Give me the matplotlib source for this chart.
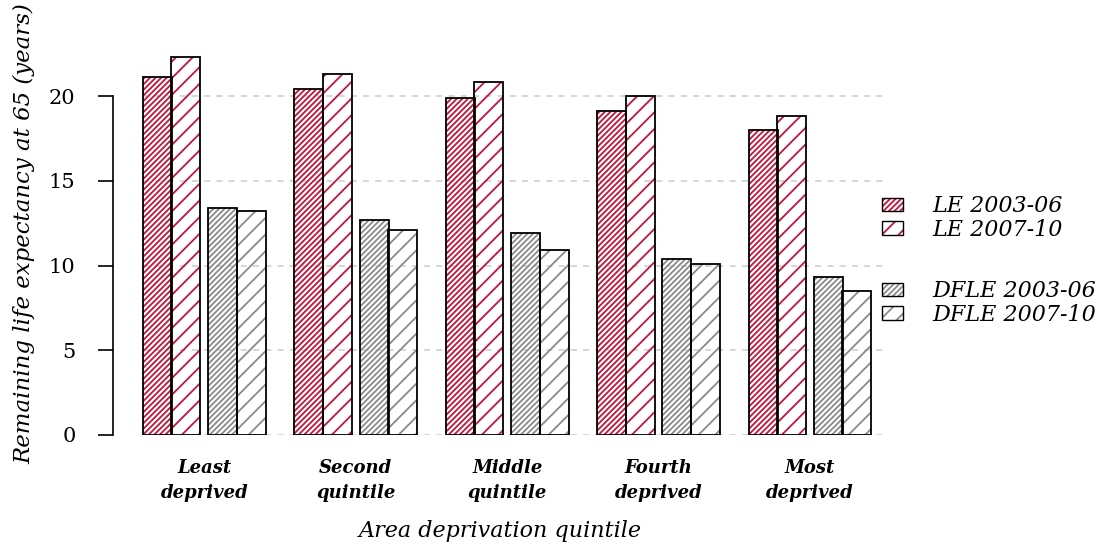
import numpy as np
import matplotlib
matplotlib.use("Agg")
import matplotlib.pyplot as plt
from matplotlib.patches import Patch
from matplotlib.legend_handler import HandlerTuple

quintiles = ["Least\ndeprived", "Second\nquintile", "Middle\nquintile", "Fourth\ndeprived", "Most\ndeprived"]
le_0306 = [21.1, 20.4, 19.9, 19.1, 18.0]
le_0710 = [22.3, 21.3, 20.8, 20.0, 18.8]
dfle_0306 = [13.4, 12.7, 11.9, 10.4, 9.3]
dfle_0710 = [13.2, 12.1, 10.9, 10.1, 8.5]
series_names = ["LE 2003-06", "LE 2007-10", "DFLE 2003-06", "DFLE 2007-10"]

red = "#c0163c"
grey = "#8a8a8a"
plt.rcParams["hatch.linewidth"] = 1.3
serif = ["DejaVu Serif"]

W, H = 1110, 545
fig = plt.figure(figsize=(W / 100, H / 100), dpi=100)
ax = fig.add_axes([113 / W, 110 / H, 774 / W, 402 / H])

# spine setup first (set_position resets tick labels)
for s in ["top", "right", "bottom"]:
    ax.spines[s].set_visible(False)
ax.spines["left"].set_bounds(0, 20)
ax.spines["left"].set_linewidth(1.2)

w = 1.0
x0 = np.arange(5) * 5.22
offsets = [0, 0.98, 2.25, 3.24]
series = [le_0306, le_0710, dfle_0306, dfle_0710]
colors = [red, red, grey, grey]
hatches = ["//////", "//", "//////", "//"]

ax.hlines([0, 5, 10, 15, 20], 0, x0[-1] + 4.24 + 0.5, color="#cccccc",
          linestyles=(0, (4, 4)), lw=1.1, zorder=0)

for vals, off, c, h in zip(series, offsets, colors, hatches):
    xs = x0 + off
    ax.bar(xs, vals, width=w, align="edge", facecolor="none", edgecolor=c,
           hatch=h, linewidth=0, zorder=2)
    ax.bar(xs, vals, width=w, align="edge", fill=False, edgecolor="black",
           linewidth=1.3, zorder=3)

ax.set_xlim(-30 / 29, -30 / 29 + 774 / 29)
ax.set_ylim(0, 402 / 16.95)
ax.set_yticks([0, 5, 10, 15, 20])
ax.set_yticklabels(["0", "5", "10", "15", "20"], family=serif, fontsize=15)
ax.set_xticks(x0 + 2.12)
ax.set_xticklabels(quintiles, family=serif, style="italic", fontweight="bold",
                   fontsize=13, linespacing=1.55)
ax.tick_params(axis="x", length=0, pad=17)
ax.tick_params(axis="y", length=11, width=1.2, pad=16)

ax.set_xlabel("Area deprivation quintile", family=serif, style="italic",
              fontsize=16, labelpad=13)
ax.set_ylabel("Remaining life expectancy at 65 (years)", family=serif,
              style="italic", fontsize=16.5, labelpad=10)

handles = []
for c, h in zip(colors, hatches):
    hp = Patch(facecolor="none", edgecolor=c, hatch=h, linewidth=0)
    ep = Patch(fill=False, edgecolor="black", linewidth=1.0)
    handles.append((hp, ep))

lkw = dict(loc="center left", frameon=False, borderpad=0, borderaxespad=0,
           prop={"family": serif, "style": "italic", "size": 16},
           handlelength=0.95, handleheight=0.55, labelspacing=0.08,
           handletextpad=1.3, handler_map={tuple: HandlerTuple(ndivide=1)})
fig.legend(handles[:2], series_names[:2],
           bbox_to_anchor=(882 / W, 1 - 218 / H), **lkw)
fig.legend(handles[2:], series_names[2:],
           bbox_to_anchor=(882 / W, 1 - 303 / H), **lkw)

fig.savefig("out.png", dpi=100)
